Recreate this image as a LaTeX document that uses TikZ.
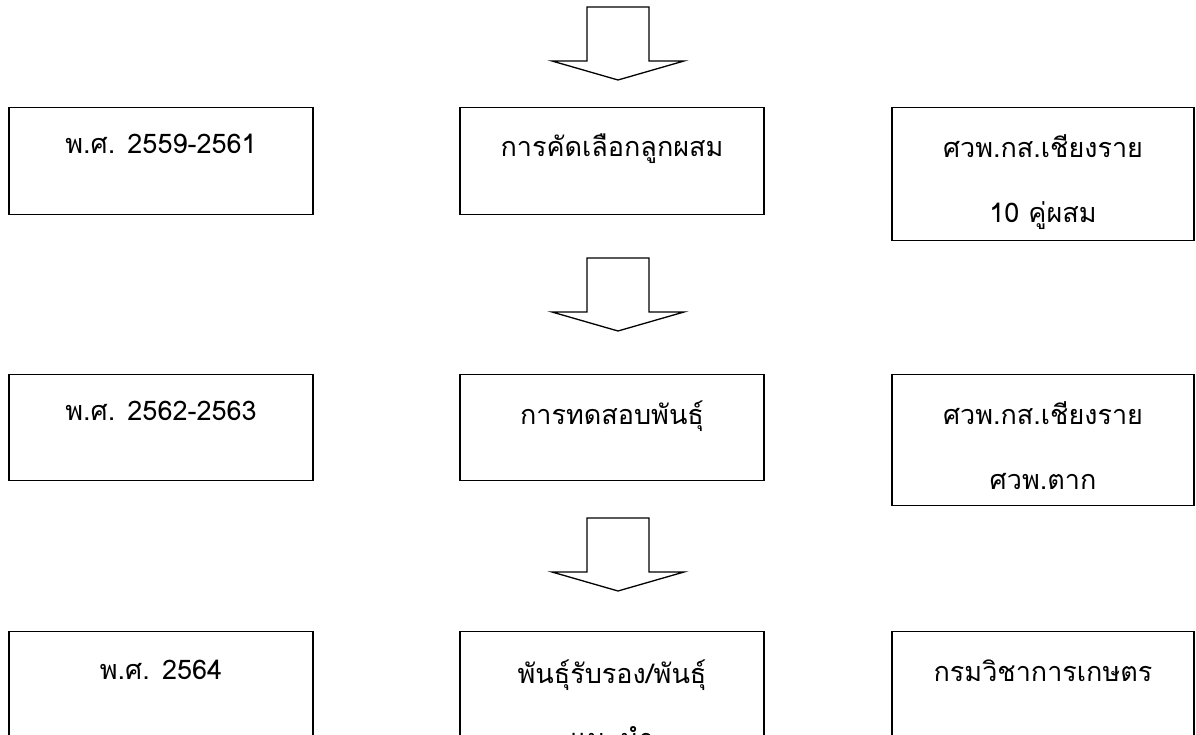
\documentclass[tikz,border=0pt]{standalone}
\usepackage{fontspec}
\newfontfamily\thaifont[Script=Thai]{Loma}
\usetikzlibrary{positioning,calc}

\tikzset{
  stagebox/.style={draw, line width=1.3pt, minimum width=304pt, minimum height=107pt, inner sep=0pt, anchor=north},
  stagetext/.style={font=\thaifont\fontsize{27}{65}\selectfont, align=center, anchor=north, inner sep=0pt},
  downarrow/.style={draw, line width=1.3pt, fill=white, line join=miter}
}

\begin{document}
\begin{tikzpicture}[x=1pt,y=-1pt]
\useasboundingbox (0,0) rectangle (1196,735);
\clip (0,0) rectangle (1196,735);

% Block arrows from one row to the next
\foreach \ytop in {7,258,518}{
  \draw[downarrow] (587,\ytop) -- (649,\ytop) -- (649,\ytop+54) -- (684,\ytop+54)
    -- (618,\ytop+73) -- (552,\ytop+54) -- (587,\ytop+54) -- cycle;
}

% Row 1
\node[stagebox] (year1) at (161,107) {};
\node[stagebox] (step1) at (612,107) {};
\node[stagebox, minimum width=302pt, minimum height=133pt] (unit1) at (1043,107) {};
\node[stagetext] (year1t) at ([yshift=-27pt]year1.north) {พ.ศ. 2559-2561};
\node[stagetext] (step1t) at ([yshift=-27pt]step1.north) {การคัดเลือกลูกผสม};
\node[stagetext] (unit1t) at ([yshift=-27pt]unit1.north) {ศวพ.กส.เชียงราย\\10 คู่ผสม};

% Row 2
\node[stagebox, minimum height=106pt] (year2) at (161,374) {};
\node[stagebox, minimum height=106pt] (step2) at (612,374) {};
\node[stagebox, minimum width=302pt, minimum height=131pt] (unit2) at (1043,374) {};
\node[stagetext] (year2t) at ([yshift=-27pt]year2.north) {พ.ศ. 2562-2563};
\node[stagetext] (step2t) at ([yshift=-27pt]step2.north) {การทดสอบพันธุ์};
\node[stagetext] (unit2t) at ([yshift=-27pt]unit2.north) {ศวพ.กส.เชียงราย\\ศวพ.ตาก};

% Row 3 (runs off the page)
\node[stagebox, minimum height=130pt] (year3) at (161,631) {};
\node[stagebox, minimum height=130pt] (step3) at (612,631) {};
\node[stagebox, minimum width=302pt, minimum height=130pt] (unit3) at (1043,631) {};
\node[stagetext] (year3t) at ([yshift=-29pt]year3.north) {พ.ศ. 2564};
\node[stagetext] (step3t) at ([yshift=-29pt]step3.north) {พันธุ์รับรอง/พันธุ์\\แนะนำ};
\node[stagetext] (unit3t) at ([yshift=-29pt]unit3.north) {กรมวิชาการเกษตร};
\end{tikzpicture}
\end{document}
